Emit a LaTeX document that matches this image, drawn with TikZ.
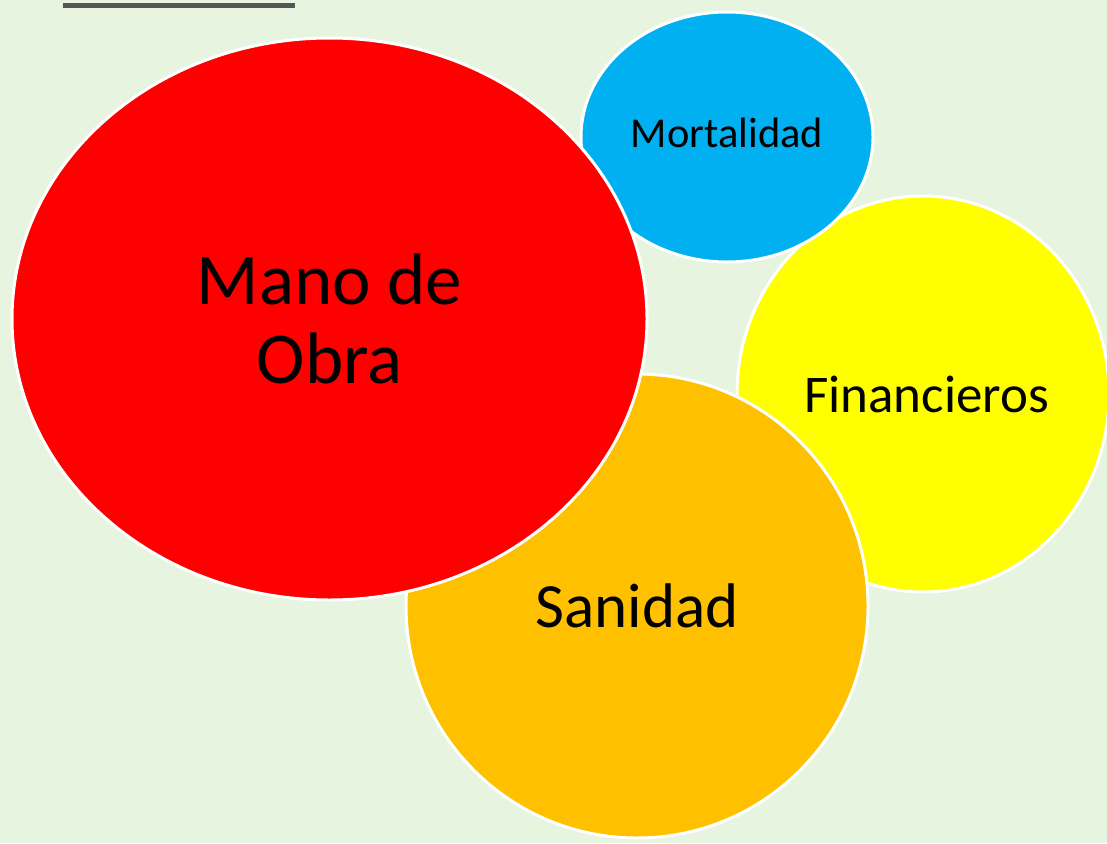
\documentclass[tikz,border=0pt]{standalone}
\usepackage{fontspec}
\setmainfont{Carlito}
\usetikzlibrary{shapes.geometric}
\definecolor{bgpale}{RGB}{230,244,224}
\definecolor{mored}{RGB}{255,0,0}
\definecolor{moblue}{RGB}{0,176,240}
\definecolor{moyellow}{RGB}{255,255,0}
\definecolor{moorange}{RGB}{255,192,0}
\definecolor{rulegray}{RGB}{85,85,85}
\begin{document}
\begin{tikzpicture}[x=1pt, y=-1pt,
bubble/.style={ellipse, draw=white, line width=3pt, inner sep=0pt, text=black, align=center}
]
\fill[bgpale] (0,0) rectangle (1107,843);
\useasboundingbox (0,0) rectangle (1107,843);
\draw[rulegray, line width=5pt] (63,5.5) -- (295,5.5);

\node[bubble, fill=moyellow, minimum width=372pt, minimum height=396pt] (fin) at (923,394) {};
\node[bubble, fill=moblue, minimum width=292pt, minimum height=250pt] (mort) at (727,137) {};
\node[bubble, fill=moorange, minimum width=462pt, minimum height=464pt] (san) at (637,606) {};
\node[bubble, fill=mored, minimum width=635pt, minimum height=562pt] (mano) at (329.5,319) {};

\node[font=\fontsize{53}{60}\selectfont] (finlbl) at ([xshift=3.5pt]fin.center) {Financieros};
\node[font=\fontsize{42.5}{50}\selectfont] (mortlbl) at ([yshift=4pt]mort.center) {Mortalidad};
\node[font=\fontsize{63}{72}\selectfont] (sanlbl) at (san.center) {Sanidad};
\node[font=\fontsize{73}{79}\selectfont, align=center] (manolbl) at (mano.center) {Mano de\\Obra};
\end{tikzpicture}
\end{document}
